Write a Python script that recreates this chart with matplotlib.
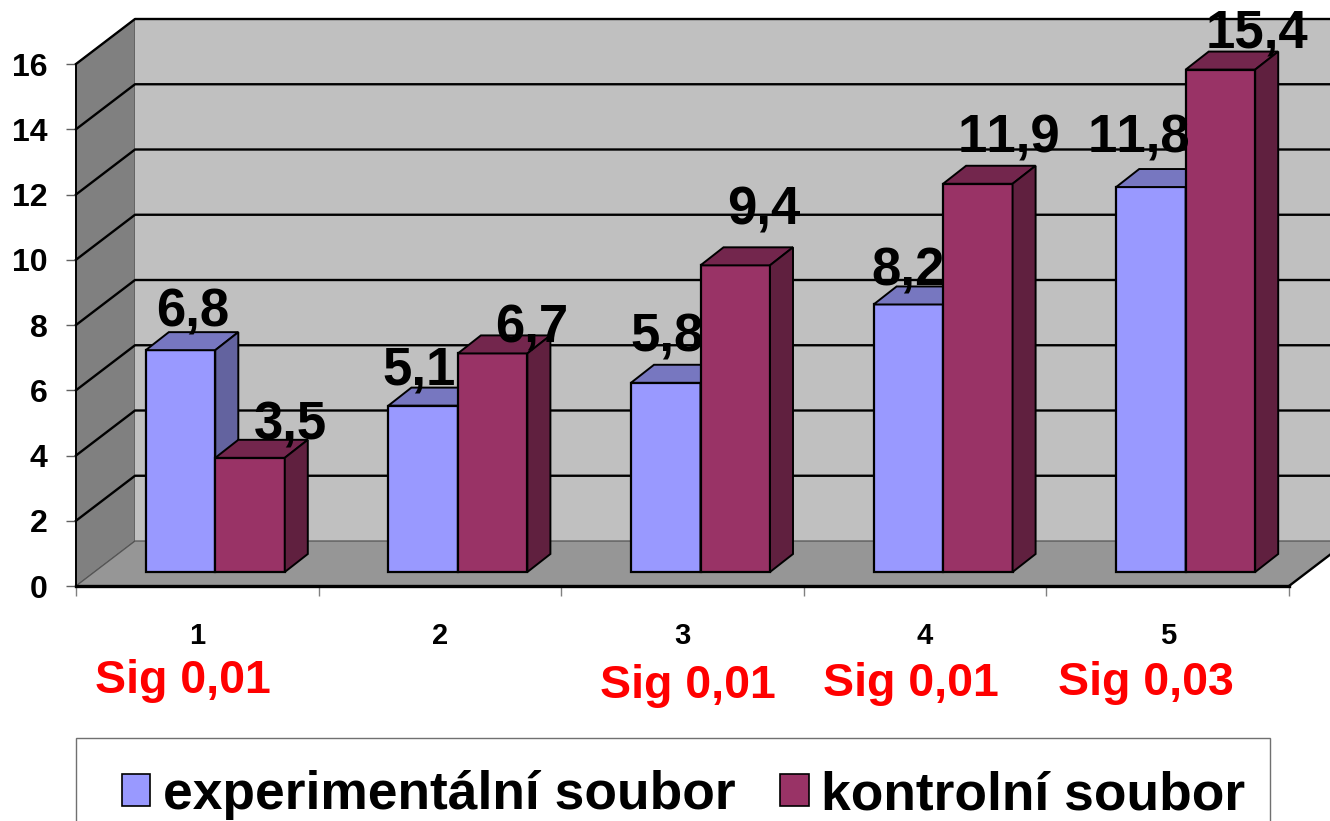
#!/usr/bin/env python3
"""Pseudo-3D clustered columns: experimental vs. control group, five categories."""
import matplotlib
matplotlib.use("Agg")
import matplotlib.pyplot as plt
from matplotlib.patches import Patch, Polygon, Rectangle

plt.rcParams["font.family"] = ["Liberation Sans", "DejaVu Sans"]
plt.rcParams["font.weight"] = "bold"
plt.rcParams["text.kerning_factor"] = 6  # the reference has no pair kerning ("11")

CATEGORIES = [1, 2, 3, 4, 5]
EXPERIMENTAL = [6.8, 5.1, 5.8, 8.2, 11.8]
CONTROL = [3.5, 6.7, 9.4, 11.9, 15.4]
EXP_LABELS = ["6,8", "5,1", "5,8", "8,2", "11,8"]
CTRL_LABELS = ["3,5", "6,7", "9,4", "11,9", "15,4"]
SIG_LABELS = ["Sig 0,01", None, "Sig 0,01", "Sig 0,01", "Sig 0,03"]
YTICKS = [0, 2, 4, 6, 8, 10, 12, 14, 16]
SERIES_NAMES = ["experimentální soubor", "kontrolní soubor"]

# hand placed labels, pixel offsets from the top front edge of each column
EXP_LABEL_DX = [12, -4, 1, 0, -12]
EXP_LABEL_DY = [24, 21, 31, 19, 35]
CTRL_LABEL_DX = [40, 39, 28, 31, 36]
CTRL_LABEL_DY = [18, 11, 41, 31, 22]
SIG_DX = [-14, 0, 5, -14, -22]
SIG_DY = [-107, 0, -112, -110, -109]

W, H = 1330, 821
X_PX = 1213 / 5     # pixels per category
Y_PX = 522 / 16     # pixels per unit
WALL_DX = 59 / X_PX
WALL_DY = 45 / Y_PX
BAR_W = 69.5 / X_PX
BAR_SHIFT = 18 / X_PX
BAR_BASE = 14 / Y_PX
BAR_DX = 23 / X_PX
BAR_DY = 18 / Y_PX

BLUE = ("#9999ff", "#7777c0", "#63639f")
RED = ("#993366", "#73264d", "#60203f")


def column(ax, left, value, colors):
    front, top, side = colors
    bottom = BAR_BASE
    ax.bar(left, value, BAR_W, bottom=bottom, align="edge", color=front,
           edgecolor="black", lw=1.6, zorder=3, clip_on=False)
    right = left + BAR_W
    high = bottom + value
    ax.add_patch(Polygon([(left, high), (right, high), (right + BAR_DX, high + BAR_DY),
                          (left + BAR_DX, high + BAR_DY)], fc=top, ec="black",
                         lw=1.4, zorder=3, clip_on=False))
    ax.add_patch(Polygon([(right, bottom), (right + BAR_DX, bottom + BAR_DY),
                          (right + BAR_DX, high + BAR_DY), (right, high)], fc=side,
                         ec="black", lw=1.4, zorder=3, clip_on=False))


def main():
    fig = plt.figure(figsize=(W / 100, H / 100), dpi=100)
    ax = fig.add_axes([76 / W, (H - 586) / H, 1213 / W, 522 / H])
    ax.set_xlim(0.5, 5.5)
    ax.set_ylim(0, 16)
    ax.patch.set_visible(False)

    x0, x1 = 0.5, 5.5
    ax.add_patch(Polygon([(x0, 0), (x0 + WALL_DX, WALL_DY), (x0 + WALL_DX, 16 + WALL_DY),
                          (x0, 16)], fc="#808080", ec="#505050", lw=0.8, clip_on=False, zorder=1))
    ax.add_patch(Polygon([(x0 + WALL_DX, WALL_DY), (x1 + WALL_DX, WALL_DY),
                          (x1 + WALL_DX, 16 + WALL_DY), (x0 + WALL_DX, 16 + WALL_DY)],
                         fc="#c0c0c0", ec="none", clip_on=False, zorder=1))
    ax.add_patch(Polygon([(x0, 0), (x1, 0), (x1 + WALL_DX, WALL_DY), (x0 + WALL_DX, WALL_DY)],
                         fc="#969696", ec="none", clip_on=False, zorder=1))

    # gridlines run along the side wall and the back wall
    for v in YTICKS[1:]:
        ax.plot([x0, x0 + WALL_DX, x1 + WALL_DX], [v, v + WALL_DY, v + WALL_DY],
                color="black", lw=1.7, clip_on=False, zorder=2)
    ax.plot([x0, x0 + WALL_DX, x1 + WALL_DX], [0, WALL_DY, WALL_DY],
            color="#555555", lw=0.9, clip_on=False, zorder=2)
    ax.plot([x1, x1 + WALL_DX], [0, WALL_DY], color="black", lw=1.7, clip_on=False, zorder=2)

    for i, cat in enumerate(CATEGORIES):
        left = cat + BAR_SHIFT - BAR_W
        column(ax, left, EXPERIMENTAL[i], BLUE)
        column(ax, left + BAR_W, CONTROL[i], RED)
        ax.annotate(EXP_LABELS[i], (left + BAR_W / 2, BAR_BASE + EXPERIMENTAL[i]),
                    xytext=(EXP_LABEL_DX[i], EXP_LABEL_DY[i]), textcoords="offset pixels",
                    ha="center", va="baseline", fontsize=38, zorder=5, annotation_clip=False)
        ax.annotate(CTRL_LABELS[i], (left + 1.5 * BAR_W, BAR_BASE + CONTROL[i]),
                    xytext=(CTRL_LABEL_DX[i], CTRL_LABEL_DY[i]), textcoords="offset pixels",
                    ha="center", va="baseline", fontsize=38, zorder=5, annotation_clip=False)
        if SIG_LABELS[i]:
            ax.annotate(SIG_LABELS[i], (cat, 0), xytext=(SIG_DX[i], SIG_DY[i]),
                        textcoords="offset pixels", ha="center", va="baseline",
                        fontsize=33.5, color="#ff0000", annotation_clip=False)

    ax.set_yticks(YTICKS)
    ax.set_xticks([c - 0.5 for c in CATEGORIES] + [CATEGORIES[-1] + 0.5])
    ax.set_xticklabels([])
    ax.set_xticks(CATEGORIES, labels=[str(c) for c in CATEGORIES], minor=True)
    ax.tick_params(axis="y", length=7.5, width=1, color="#606060", pad=13, labelsize=23)
    ax.tick_params(axis="x", which="major", length=7.5, width=1, color="#808080")
    ax.tick_params(axis="x", which="minor", length=0, pad=26, labelsize=21)
    for name in ("top", "right"):
        ax.spines[name].set_visible(False)
    ax.spines["left"].set_linewidth(1.4)
    ax.spines["bottom"].set_linewidth(2.4)
    for spine in ax.spines.values():
        spine.set_zorder(2.5)

    fig.add_artist(Rectangle((76 / W, -0.05), 1194 / W, (H - 738) / H + 0.05, fc="white",
                             ec="#707070", lw=1, transform=fig.transFigure))
    handles = [Patch(fc=BLUE[0], ec="black", lw=1.2), Patch(fc=RED[0], ec="black", lw=1.2)]
    fig.legend(handles, SERIES_NAMES, loc="lower left", bbox_to_anchor=(122 / W, 1 / H),
               bbox_transform=fig.transFigure, ncol=2, frameon=False, fontsize=38.4,
               borderpad=0, borderaxespad=0, handlelength=0.53, handleheight=0.53,
               handletextpad=0.23, columnspacing=0.85)

    fig.savefig("out.png", dpi=100)


if __name__ == "__main__":
    main()
